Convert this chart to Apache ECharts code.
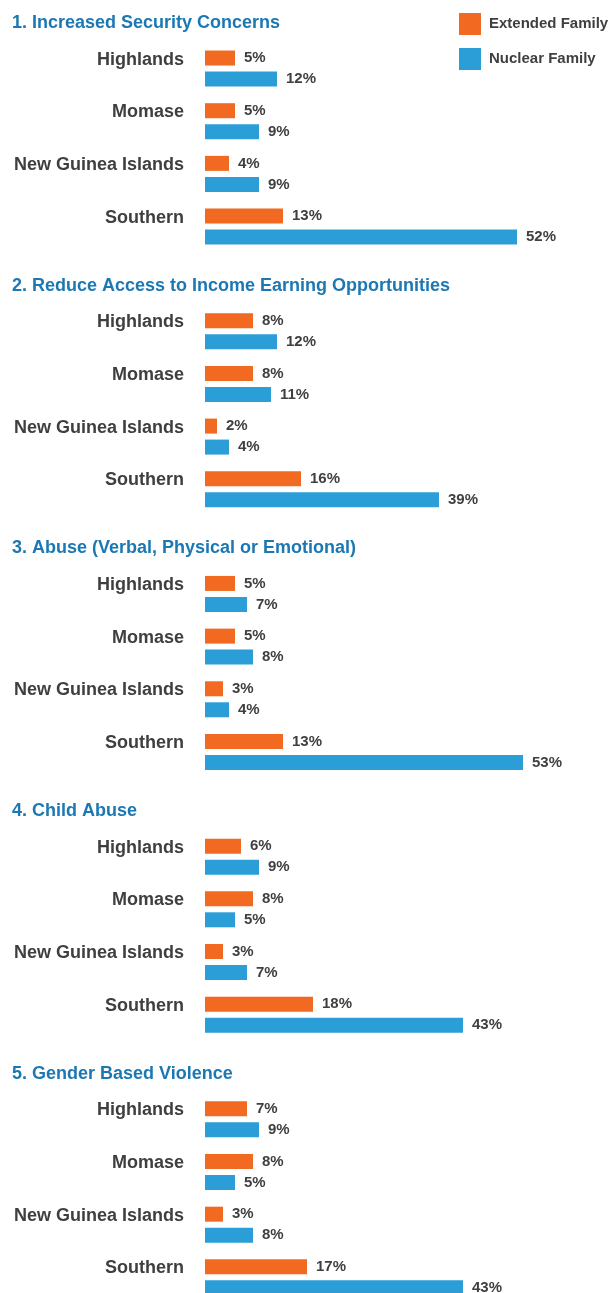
<!DOCTYPE html>
<html>
<head>
<meta charset="utf-8">
<script src="https://cdn.jsdelivr.net/npm/echarts@6/dist/echarts.min.js"></script>
<style>
  html, body { margin: 0; padding: 0; background: #fff; overflow: hidden; }
  #chart { width: 612px; height: 1320px; }
</style>
</head>
<body>
<div id="chart"></div>
<script>
// Regions shown in every panel
const regions = ['Highlands', 'Momase', 'New Guinea Islands', 'Southern'];

// Panel headings
const panelTitles = [
  '1. Increased Security Concerns',
  '2. Reduce Access to Income Earning Opportunities',
  '3. Abuse (Verbal, Physical or Emotional)',
  '4. Child Abuse',
  '5. Gender Based Violence'
];

// Percentages per panel, in region order
const extendedFamily1 = [5, 5, 4, 13];
const extendedFamily2 = [8, 8, 2, 16];
const extendedFamily3 = [5, 5, 3, 13];
const extendedFamily4 = [6, 8, 3, 18];
const extendedFamily5 = [7, 8, 3, 17];

const nuclearFamily1 = [12, 9, 9, 52];
const nuclearFamily2 = [12, 11, 4, 39];
const nuclearFamily3 = [7, 8, 4, 53];
const nuclearFamily4 = [9, 5, 7, 43];
const nuclearFamily5 = [9, 5, 8, 43];

const extendedFamily = [extendedFamily1, extendedFamily2, extendedFamily3, extendedFamily4, extendedFamily5];
const nuclearFamily = [nuclearFamily1, nuclearFamily2, nuclearFamily3, nuclearFamily4, nuclearFamily5];

const ORANGE = '#f26a22';
const BLUE = '#2b9ed8';
const TEXT = '#3f3f3f';
const FONT = '"Liberation Sans", Arial, sans-serif';

const panelStep = 262.7;
const bandH = 52.67;
const gridTop0 = 42.2;
const axisMax = 60;
const pxPerUnit = 6.0;

const title = [], grid = [], xAxis = [], yAxis = [], series = [];

panelTitles.forEach((t, k) => {
  title.push({
    text: t,
    left: 12,
    top: 14 + panelStep * k,
    padding: 0,
    textStyle: { color: '#1b78b3', fontSize: 18, fontWeight: 'bold', fontFamily: FONT }
  });
  grid.push({
    left: 205,
    top: gridTop0 + panelStep * k,
    width: axisMax * pxPerUnit,
    height: bandH * regions.length,
    containLabel: false
  });
  xAxis.push({
    gridIndex: k, type: 'value', min: 0, max: axisMax,
    show: false
  });
  yAxis.push({
    gridIndex: k, type: 'category', data: regions, inverse: true,
    axisLine: { show: false }, axisTick: { show: false }, splitLine: { show: false },
    axisLabel: {
      color: TEXT, fontSize: 18, fontWeight: 'bold', fontFamily: FONT,
      margin: 21, verticalAlign: 'bottom', lineHeight: 18
    }
  });
  const label = {
    show: true, position: 'right', distance: 9,
    formatter: '{c}%', color: TEXT, fontSize: 15, fontWeight: 'bold', fontFamily: FONT
  };
  series.push({
    name: 'Extended Family', type: 'bar', xAxisIndex: k, yAxisIndex: k,
    data: extendedFamily[k], barWidth: 15, barGap: '40%',
    itemStyle: { color: ORANGE }, label
  });
  series.push({
    name: 'Nuclear Family', type: 'bar', xAxisIndex: k, yAxisIndex: k,
    data: nuclearFamily[k], barWidth: 15, barGap: '40%',
    itemStyle: { color: BLUE }, label
  });
});

const chart = echarts.init(document.getElementById('chart'), null, { renderer: 'canvas' });
chart.setOption({
  animation: false,
  backgroundColor: '#fff',
  title,
  legend: {
    orient: 'vertical', left: 459, top: 13, padding: 0,
    itemWidth: 22, itemHeight: 22, itemGap: 13, icon: 'rect',
    selectedMode: false,
    data: ['Extended Family', 'Nuclear Family'],
    textStyle: { color: TEXT, fontSize: 15, fontWeight: 'bold', fontFamily: FONT, padding: [0, 0, 0, 3] }
  },
  grid, xAxis, yAxis, series
});
</script>
</body>
</html>
